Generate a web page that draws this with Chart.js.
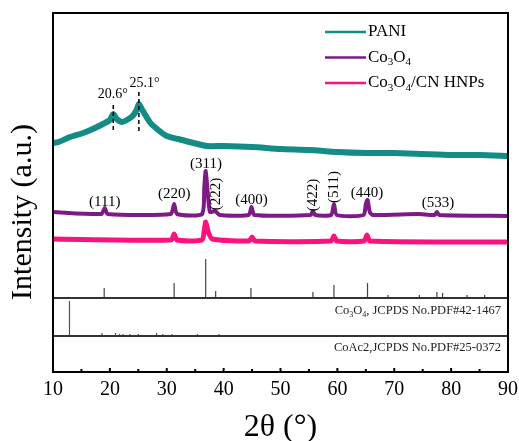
<!DOCTYPE html>
<html lang="en">
<head>
<meta charset="UTF-8">
<title>XRD patterns</title>
<script src="https://cdn.jsdelivr.net/npm/chart.js@4"></script>
<style>
  html, body { margin: 0; padding: 0; background: #fff; }
  #xrd { display: block; }
</style>
</head>
<body>
<canvas id="xrd" width="519" height="441"></canvas>
<script>
// ---- data (2θ in degrees, intensity in arbitrary stacked units) ----
const paniTheta = [10, 11, 13, 15.3, 17, 18.8, 20, 20.6, 21.2, 22.1, 23, 24, 24.7, 25.1, 25.6, 27, 28.5, 30, 32, 34, 37, 40, 45, 50, 55, 60, 65, 70, 75, 80, 85, 90];
const paniI     = [229, 230, 235, 239, 243, 248, 252, 258, 253, 250, 252, 256, 262, 268, 263, 250, 242, 236, 233, 230, 226, 226, 225, 223, 222, 220, 219, 219, 218, 217, 217, 216];

const co3o4Theta = [10, 18.5, 19.1, 19.6, 30.7, 31.3, 31.8, 36.2, 36.6, 36.85, 37.2, 37.6, 38.5, 39.3, 44.4, 44.9, 45.4, 55.3, 55.7, 56.1, 58.9, 59.4, 59.9, 64.6, 65.0, 65.3, 65.7, 66.2, 74.2, 77.1, 77.5, 77.9, 90];
const co3o4I     = [160, 158, 164, 158, 158, 168, 158, 158, 185, 201, 180, 160, 161, 157, 157, 165, 157, 157, 161, 157, 157, 168, 157, 157, 168, 172, 160, 157, 158, 157, 160, 157, 156];

const hnpTheta = [10, 30.8, 31.3, 31.8, 36.2, 36.6, 36.85, 37.3, 38, 44.5, 45, 45.5, 58.9, 59.4, 59.9, 64.7, 65.2, 65.7, 90];
const hnpI     = [133, 132, 138, 132, 132, 142, 150, 140, 133, 131, 135, 131, 131, 136, 131, 131, 137, 131, 130];

// reference cards: stick positions and heights
const refCo3O4Pos = [19.0, 31.3, 36.85, 38.6, 44.8, 55.7, 59.4, 65.3, 68.9, 74.4, 77.5, 78.5, 82.8, 85.9];
const refCo3O4H   = [10, 15, 39, 7, 10, 6, 13, 15, 3, 3, 6, 5, 3, 3];
const refCoAcPos  = [12.9, 18.6, 21.0, 21.7, 22.3, 23.5, 25.0, 28.2, 29.3, 30.9, 35.4, 39.2];
const refCoAcH    = [35, 3, 3, 2, 2, 2, 2, 3, 2, 2, 2, 2];
const refBase     = [74, 36];
const refNames    = ['Co_3O_4, JCPDS No.PDF#42-1467', 'CoAc2,JCPDS No.PDF#25-0372'];
const refNameY    = [61, 24];

const seriesNames = ['PANI', 'Co_3O_4', 'Co_3O_4/CN HNPs'];
const seriesColors = ['#138c86', '#7e1a88', '#fb127f'];

// Miller indices of Co3O4
const hklText = ['(111)', '(220)', '(311)', '(222)', '(400)', '(422)', '(511)', '(440)', '(533)'];
const hklPos  = [19.1, 31.3, 36.9, 38.6, 44.9, 55.65, 59.4, 65.2, 77.7];
const hklY    = [170, 178, 208, 178, 172, 177, 185, 179, 169];
const hklVert = [false, false, false, true, false, true, true, false, false];

// PANI peak markers
const paniPeakPos = [20.6, 25.1];
const paniPeakTop = [267, 280];
const paniPeakBot = [242, 239];
const paniPeakLabelX = [20.5, 26.1];
const paniPeakLabelY = [278, 289];

const xTicks = [10, 20, 30, 40, 50, 60, 70, 80, 90];
const yTitle = 'Intensity (a.u.)';

const SERIF = "'Liberation Serif', 'Times New Roman', serif";

function toPoints(xs, ys) {
  return xs.map((v, i) => ({ x: v, y: ys[i] }));
}

// sticks as vertical segments broken by null points
function sticks(pos, h, base) {
  const out = [];
  pos.forEach((p, i) => {
    out.push({ x: p, y: base }, { x: p, y: base + h[i] }, { x: p, y: null });
  });
  return out;
}

// text with "_d" meaning subscript digit
function chemText(ctx, str, x, y, size, align) {
  const parts = [];
  for (let i = 0; i < str.length; i++) {
    if (str[i] === '_') { parts.push({ t: str[i + 1], sub: true }); i++; }
    else if (parts.length && !parts[parts.length - 1].sub) parts[parts.length - 1].t += str[i];
    else parts.push({ t: str[i], sub: false });
  }
  const subSize = Math.round(size * 0.62);
  let w = 0;
  parts.forEach(p => {
    ctx.font = (p.sub ? subSize : size) + 'px ' + SERIF;
    p.w = ctx.measureText(p.t).width;
    w += p.w;
  });
  let cx = align === 'right' ? x - w : x;
  ctx.textAlign = 'left';
  ctx.textBaseline = 'middle';
  parts.forEach(p => {
    ctx.font = (p.sub ? subSize : size) + 'px ' + SERIF;
    ctx.fillText(p.t, cx, p.sub ? y + size * 0.3 : y);
    cx += p.w;
  });
}

const decor = {
  id: 'decor',
  afterDatasetsDraw(chart) {
    const { ctx, chartArea: a, scales: { x, y } } = chart;
    ctx.save();

    // panel separators
    ctx.strokeStyle = '#333';
    ctx.lineWidth = 2;
    refBase.forEach(b => {
      const py = Math.round(y.getPixelForValue(b));
      ctx.beginPath(); ctx.moveTo(a.left, py); ctx.lineTo(a.right, py); ctx.stroke();
    });

    // frame
    ctx.strokeStyle = '#000';
    ctx.strokeRect(a.left, a.top, a.right - a.left, a.bottom - a.top);

    // inward ticks (major + minor)
    ctx.lineWidth = 2;
    for (let v = 10; v <= 90; v += 5) {
      const px = x.getPixelForValue(v);
      const len = v % 10 === 0 ? 4 : 3;
      ctx.beginPath(); ctx.moveTo(px, a.bottom); ctx.lineTo(px, a.bottom - len); ctx.stroke();
    }

    // y axis title
    ctx.fillStyle = '#000';
    ctx.save();
    ctx.translate(23, 212);
    ctx.rotate(-Math.PI / 2);
    ctx.font = '30px ' + SERIF;
    ctx.textAlign = 'center';
    ctx.textBaseline = 'middle';
    ctx.fillText(yTitle, 0, 0);
    ctx.restore();

    // dashed markers on PANI
    ctx.lineWidth = 1.5;
    ctx.setLineDash([4, 3]);
    paniPeakPos.forEach((p, i) => {
      const px = x.getPixelForValue(p);
      ctx.beginPath();
      ctx.moveTo(px, y.getPixelForValue(paniPeakTop[i]));
      ctx.lineTo(px, y.getPixelForValue(paniPeakBot[i]));
      ctx.stroke();
    });
    ctx.setLineDash([]);
    ctx.font = '14px ' + SERIF;
    ctx.textAlign = 'center';
    ctx.textBaseline = 'middle';
    paniPeakPos.forEach((p, i) => {
      ctx.fillText(p.toFixed(1) + '°', x.getPixelForValue(paniPeakLabelX[i]), y.getPixelForValue(paniPeakLabelY[i]));
    });

    // hkl labels
    ctx.font = '15px ' + SERIF;
    hklText.forEach((t, i) => {
      const px = x.getPixelForValue(hklPos[i]);
      const py = y.getPixelForValue(hklY[i]);
      if (hklVert[i]) {
        ctx.save();
        ctx.translate(px, py);
        ctx.rotate(-Math.PI / 2);
        ctx.fillText(t, 0, 0);
        ctx.restore();
      } else {
        ctx.fillText(t, px, py);
      }
    });

    // reference card names
    ctx.fillStyle = '#222';
    refNames.forEach((t, i) => {
      chemText(ctx, t, a.right - 7, y.getPixelForValue(refNameY[i]), 12.5, 'right');
    });

    // legend
    ctx.fillStyle = '#000';
    seriesNames.forEach((t, i) => {
      const ly = 32 + i * 25.5;
      ctx.strokeStyle = seriesColors[i];
      ctx.lineWidth = 2.5;
      ctx.beginPath(); ctx.moveTo(325, ly); ctx.lineTo(366, ly); ctx.stroke();
      chemText(ctx, t, 368, ly, 17, 'left');
    });

    ctx.restore();
  }
};

new Chart(document.getElementById('xrd'), {
  type: 'line',
  data: {
    datasets: [
      { label: 'PANI', data: toPoints(paniTheta, paniI), borderColor: seriesColors[0], borderWidth: 6, tension: 0.2 },
      { label: 'Co3O4', data: toPoints(co3o4Theta, co3o4I), borderColor: seriesColors[1], borderWidth: 4, tension: 0.2 },
      { label: 'Co3O4/CN HNPs', data: toPoints(hnpTheta, hnpI), borderColor: seriesColors[2], borderWidth: 5, tension: 0.2 },
      { label: 'Co3O4 PDF#42-1467', data: sticks(refCo3O4Pos, refCo3O4H, refBase[0]), borderColor: '#444', borderWidth: 1.2 },
      { label: 'CoAc2 PDF#25-0372', data: sticks(refCoAcPos, refCoAcH, refBase[1]), borderColor: '#555', borderWidth: 1.2 }
    ]
  },
  options: {
    responsive: false,
    animation: false,
    layout: { autoPadding: false, padding: { top: 13, right: 11, left: 53, bottom: 0 } },
    elements: { point: { radius: 0 } },
    plugins: { legend: { display: false }, tooltip: { enabled: false } },
    scales: {
      x: {
        type: 'linear', min: 10, max: 90,
        afterBuildTicks: s => { s.ticks = xTicks.map(v => ({ value: v })); },
        afterFit: s => { s.paddingLeft = 0; s.paddingRight = 0; },
        grid: { display: false, drawTicks: false },
        border: { display: false },
        ticks: { padding: 6, color: '#000', font: { family: SERIF, size: 20 } },
        title: { display: true, text: '2θ (°)', color: '#000', font: { family: SERIF, size: 32, lineHeight: 1 }, padding: { top: 4, bottom: -3 } }
      },
      y: {
        display: false,
        min: 0, max: 359
      }
    }
  },
  plugins: [decor]
});
</script>
</body>
</html>
